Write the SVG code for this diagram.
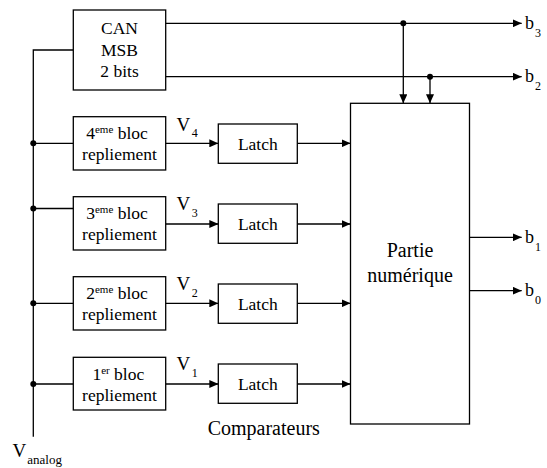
<svg xmlns="http://www.w3.org/2000/svg" width="547" height="468" viewBox="0 0 547 468">
<style>
.box{fill:#fff;stroke:#000;stroke-width:1.3}
.ln{fill:none;stroke:#000;stroke-width:1.3}
.t{font-family:'Liberation Serif','DejaVu Serif',serif;fill:#000}
.s{font-size:17.5px}
.b{font-size:20px}
.c{text-anchor:middle}
.sup{font-size:11px}
.sub{font-size:12px}
</style>
<defs>
<marker id="ah" markerWidth="9" markerHeight="8" refX="9" refY="4" orient="auto" markerUnits="userSpaceOnUse">
<path d="M0,0 L9,4 L0,8 Z" fill="#000"/>
</marker>
</defs>
<rect width="547" height="468" fill="#fff"/>
<g id="connectors">
<path class="ln" d="M73.3,50 H33.3 V436.7"/>
<path class="ln" d="M33.3,143.3 H73.3 M33.3,208.5 H73.3 M33.3,303.3 H73.3 M33.3,384 H73.3"/>
<circle cx="33.3" cy="143.3" r="3"/>
<circle cx="33.3" cy="208.5" r="3"/>
<circle cx="33.3" cy="303.3" r="3"/>
<circle cx="33.3" cy="384" r="3"/>
<path class="ln" d="M165.7,23.3 H521.7" marker-end="url(#ah)"/>
<path class="ln" d="M165.7,76.7 H521.7" marker-end="url(#ah)"/>
<circle cx="403.3" cy="23.3" r="3"/>
<circle cx="430" cy="76.7" r="3"/>
<path class="ln" d="M403.3,23.3 V103.3" marker-end="url(#ah)"/>
<path class="ln" d="M430,76.7 V103.3" marker-end="url(#ah)"/>
<path class="ln" d="M165.7,143.3 H218.3" marker-end="url(#ah)"/>
<path class="ln" d="M165.7,224 H218.3" marker-end="url(#ah)"/>
<path class="ln" d="M165.7,303.3 H218.3" marker-end="url(#ah)"/>
<path class="ln" d="M165.7,384 H218.3" marker-end="url(#ah)"/>
<path class="ln" d="M297.3,143.3 H350.5" marker-end="url(#ah)"/>
<path class="ln" d="M297.3,224 H350.5" marker-end="url(#ah)"/>
<path class="ln" d="M297.3,303.3 H350.5" marker-end="url(#ah)"/>
<path class="ln" d="M297.3,384 H350.5" marker-end="url(#ah)"/>
<path class="ln" d="M469.5,237.3 H521.7" marker-end="url(#ah)"/>
<path class="ln" d="M469.5,290.7 H521.7" marker-end="url(#ah)"/>
</g>
<g id="can">
<rect class="box" x="73.3" y="10" width="92.4" height="80"/>
<text class="t s c" x="119.5" y="33.5">CAN</text>
<text class="t s c" x="119.5" y="55.5">MSB</text>
<text class="t s c" x="119.5" y="76.5">2 bits</text>
</g>
<g id="bloc4">
<rect class="box" x="73.3" y="116.7" width="92.4" height="53.3"/>
<text class="t s c" x="117" y="139">4<tspan class="sup" dy="-6">eme</tspan><tspan dy="6"> bloc</tspan></text>
<text class="t s c" x="119.5" y="160">repliement</text>
</g>
<g id="bloc3">
<rect class="box" x="73.3" y="196.7" width="92.4" height="53.3"/>
<text class="t s c" x="117" y="219">3<tspan class="sup" dy="-6">eme</tspan><tspan dy="6"> bloc</tspan></text>
<text class="t s c" x="119.5" y="240">repliement</text>
</g>
<g id="bloc2">
<rect class="box" x="73.3" y="276.7" width="92.4" height="53.3"/>
<text class="t s c" x="117" y="299">2<tspan class="sup" dy="-6">eme</tspan><tspan dy="6"> bloc</tspan></text>
<text class="t s c" x="119.5" y="320">repliement</text>
</g>
<g id="bloc1">
<rect class="box" x="73.3" y="357.3" width="92.4" height="52.7"/>
<text class="t s c" x="118.3" y="379.5">1<tspan class="sup" dy="-6">er</tspan><tspan dy="6"> bloc</tspan></text>
<text class="t s c" x="119.5" y="400.5">repliement</text>
</g>
<g id="latch4">
<rect class="box" x="218.3" y="124" width="79" height="39.3"/>
<text class="t s c" x="257.8" y="150">Latch</text>
</g>
<g id="latch3">
<rect class="box" x="218.3" y="204" width="79" height="39.3"/>
<text class="t s c" x="257.8" y="230">Latch</text>
</g>
<g id="latch2">
<rect class="box" x="218.3" y="284" width="79" height="39.3"/>
<text class="t s c" x="257.8" y="310">Latch</text>
</g>
<g id="latch1">
<rect class="box" x="218.3" y="364" width="79" height="39.3"/>
<text class="t s c" x="257.8" y="390">Latch</text>
</g>
<g id="partie">
<rect class="box" x="350.5" y="103.3" width="119" height="320.7"/>
<text class="t b c" x="410" y="256.7">Partie</text>
<text class="t b c" x="410" y="282.3">numérique</text>
</g>
<g id="labels">
<text class="t" x="176.5" y="130.7" font-size="19">V<tspan class="sub" dx="1.5" dy="6">4</tspan></text>
<text class="t" x="176.5" y="210" font-size="19">V<tspan class="sub" dx="1.5" dy="6.5">3</tspan></text>
<text class="t" x="176.5" y="290" font-size="19">V<tspan class="sub" dx="1.5" dy="6.5">2</tspan></text>
<text class="t" x="176.5" y="370" font-size="19">V<tspan class="sub" dx="1.5" dy="6.5">1</tspan></text>
<text class="t" x="525" y="28.5" font-size="18">b<tspan class="sub" dx="1" dy="8">3</tspan></text>
<text class="t" x="525" y="82" font-size="18">b<tspan class="sub" dx="1" dy="8">2</tspan></text>
<text class="t" x="525" y="242.5" font-size="18">b<tspan class="sub" dx="1" dy="8">1</tspan></text>
<text class="t" x="525" y="296" font-size="18">b<tspan class="sub" dx="1" dy="8">0</tspan></text>
<text class="t b" x="207.7" y="435">Comparateurs</text>
<text class="t" x="12.5" y="457.3" font-size="19">V<tspan font-size="13" dx="1" dy="7">analog</tspan></text>
</g>
</svg>
